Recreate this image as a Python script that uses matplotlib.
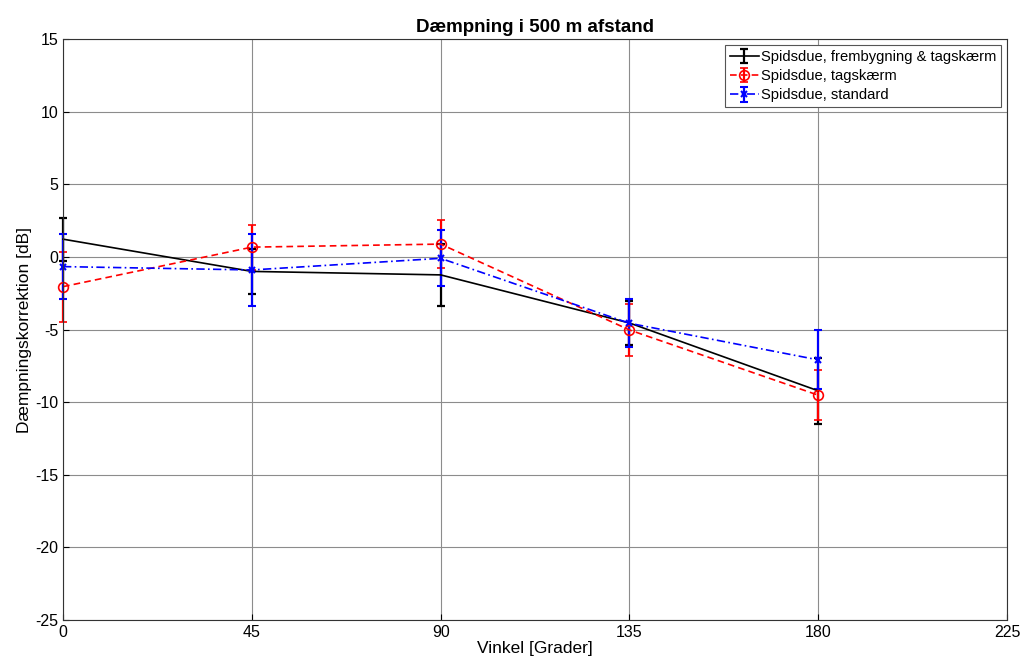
import matplotlib
matplotlib.use("Agg")
import matplotlib.pyplot as plt

plt.rcParams['font.family'] = ['Liberation Sans', 'DejaVu Sans']
plt.rcParams['axes.unicode_minus'] = False

vinkler = [0, 45, 90, 135, 180]

# Spidsdue, frembygning & tagskærm
frem_val = [1.22, -1.0, -1.24, -4.55, -9.22]
frem_err = [1.47, 1.53, 2.13, 1.5, 2.28]

# Spidsdue, tagskærm
tag_val = [-2.05, 0.67, 0.88, -5.03, -9.52]
tag_err = [2.4, 1.55, 1.65, 1.78, 1.7]

# Spidsdue, standard
std_val = [-0.67, -0.9, -0.1, -4.57, -7.09]
std_err = [2.25, 2.48, 1.93, 1.66, 2.03]

labels = ['Spidsdue, frembygning & tagskærm', 'Spidsdue, tagskærm', 'Spidsdue, standard']

fig = plt.figure(figsize=(10.23, 6.70), dpi=100)
ax = fig.add_axes([0.0616, 0.0746, 0.9228, 0.8672])

series = [
    (frem_val, frem_err, dict(color='black', linestyle='-')),
    (tag_val, tag_err, dict(color='red', linestyle=(0, (4, 2.5)), marker='o', markersize=7,
                            markerfacecolor='none', markeredgewidth=1.2)),
    (std_val, std_err, dict(color='blue', linestyle=(0, (5, 2, 1, 2)), marker='x',
                            markersize=5, markeredgewidth=1.5)),
]
for (vals, errs, style), lab in zip(series, labels):
    cont = ax.errorbar(vinkler, vals, yerr=errs, linewidth=1.2, capsize=3,
                       elinewidth=1.6, capthick=1.6, label=lab, **style)
    for art in cont.get_children():
        art.set_clip_on(False)

ax.set_xlim(0, 225)
ax.set_ylim(-25, 15)
ax.set_xticks(range(0, 226, 45))
ax.set_yticks(range(-25, 16, 5))
ax.tick_params(direction='in', labelsize=11.5, top=False, right=False, length=4)
ax.grid(True, color='#8c8c8c', linewidth=0.8)
ax.set_axisbelow(True)
for s in ax.spines.values():
    s.set_color('#333333')

ax.set_title('Dæmpning i 500 m afstand', fontsize=13.5, fontweight='bold', pad=5)
ax.set_xlabel('Vinkel [Grader]', fontsize=12.5, labelpad=1)
ax.set_ylabel('Dæmpningskorrektion [dB]', fontsize=12.5, labelpad=2)

leg = ax.legend(loc='upper right', fontsize=10.6, fancybox=False, framealpha=1,
                edgecolor='#555555', borderaxespad=0.4, handlelength=2.0,
                handletextpad=0.1, borderpad=0.35, labelspacing=0.35)
leg.get_frame().set_linewidth(0.8)

fig.savefig('out.png', dpi=100)
plt.close()
